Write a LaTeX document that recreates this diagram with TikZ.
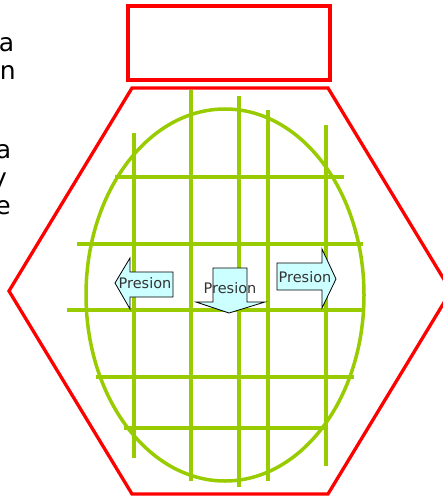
\documentclass[tikz,border=0pt]{standalone}
\usepackage{fontspec}
\setmainfont{DejaVu Sans}
\usetikzlibrary{positioning}
\definecolor{wallred}{HTML}{FF0000}
\definecolor{meshgreen}{HTML}{99CC00}
\definecolor{arrowcyan}{HTML}{CCFFFF}
\definecolor{labelgrey}{HTML}{333333}

\begin{document}
\begin{tikzpicture}[x=1pt, y=-1pt,
    wall/.style={draw=wallred, line width=3.3pt},
    mesh/.style={draw=meshgreen, line width=3.5pt},
    push/.style={draw=black, fill=arrowcyan, line width=0.8pt},
    presion/.style={inner sep=0pt, anchor=base, text=labelgrey, font=\fontsize{14.5}{16}\selectfont},
    cut/.style={inner sep=0pt, anchor=base east, font=\fontsize{25}{30}\selectfont}
  ]
  \useasboundingbox (0,0) rectangle (442,497);

  % cut-off text on the left
  \node[cut] (cuta) at (14.5,52) {a};
  \node[cut] (cutn) at (16,80) {n};
  \node[cut] (cutb) at (11.5,158) {a};
  \node[cut] (cuty) at (7,186) {y};
  \node[cut] (cute) at (11,214) {e};

  % vessel
  \draw[wall] (128,6) rectangle (330,80);
  \draw[wall] (132,88) -- (328,88) -- (451,291) -- (328,494) -- (132,494) -- (9,291) -- cycle;

  % mesh
  \draw[mesh] (225,295) ellipse [x radius=139, y radius=186];
  \foreach \x/\a/\b in {134/133/458, 191/90/481, 239/96/487, 268/110/481, 326/125/466}
    \draw[mesh] (\x,\a) -- (\x,\b);
  \foreach \y/\a/\b in {177/115/344, 244/77/363, 310/67/363, 377/96/354, 428/124/328}
    \draw[mesh] (\a,\y) -- (\b,\y);

  % pressure arrows
  \draw[push] (115,283) -- (130,258) -- (130,272) -- (173,272) -- (173,297) -- (130,297) -- (130,309) -- cycle;
  \draw[push] (213,268) -- (247,268) -- (247,302) -- (265,302) -- (229,313) -- (196,302) -- (213,302) -- cycle;
  \draw[push] (336,279) -- (322,249) -- (322,263) -- (277,263) -- (277,290) -- (322,290) -- (322,308) -- cycle;
  \node[presion] (pleft) at (145,288) {Presion};
  \node[presion] (pdown) at (230,293) {Presion};
  \node[presion] (pright) at (305,282) {Presion};
\end{tikzpicture}
\end{document}
